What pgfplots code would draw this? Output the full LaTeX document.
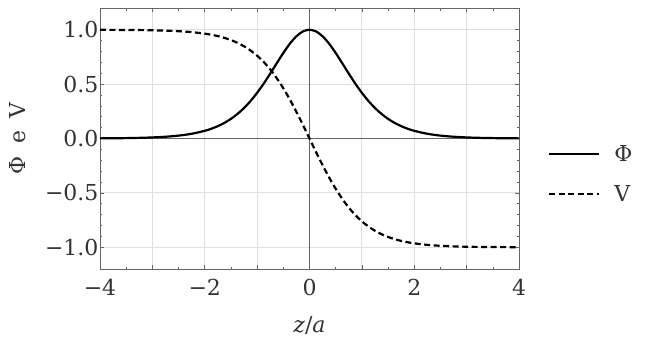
\documentclass[border=0pt]{standalone}
\usepackage{fontspec}
\setmainfont{DejaVu Serif}
\usepackage{pgfplots}
\pgfplotsset{compat=1.18}
\usepackage{pgfplotstable}
\pgfplotstableread{
z phi
-4.0 0.00134
-3.75 0.00221
-3.5 0.00364
-3.25 0.00599
-3.0 0.00987
-2.75 0.01621
-2.5 0.02660
-2.25 0.04346
-2.0 0.07065
-1.875 0.08969
-1.75 0.11380
-1.625 0.14360
-1.5 0.18070
-1.375 0.22599
-1.25 0.28042
-1.125 0.34503
-1.0 0.41998
-0.875 0.50452
-0.75 0.59658
-0.625 0.69243
-0.5 0.78645
-0.375 0.87159
-0.25 0.94001
-0.125 0.98454
0 1
0.125 0.98454
0.25 0.94001
0.375 0.87159
0.5 0.78645
0.625 0.69243
0.75 0.59658
0.875 0.50452
1.0 0.41998
1.125 0.34503
1.25 0.28042
1.375 0.22599
1.5 0.18070
1.625 0.14360
1.75 0.11380
1.875 0.08969
2.0 0.07065
2.25 0.04346
2.5 0.02660
2.75 0.01621
3.0 0.00987
3.25 0.00599
3.5 0.00364
3.75 0.00221
4.0 0.00134
}\phitable
\pgfplotstableread{
z v
-4.0 0.99933
-3.75 0.99889
-3.5 0.99818
-3.25 0.99700
-3.0 0.99505
-2.75 0.99186
-2.5 0.98661
-2.25 0.97803
-2.0 0.96403
-1.875 0.95410
-1.75 0.94138
-1.625 0.92542
-1.5 0.90515
-1.375 0.87978
-1.25 0.84828
-1.125 0.80930
-1.0 0.76159
-0.875 0.70390
-0.75 0.63515
-0.625 0.55459
-0.5 0.46212
-0.375 0.35835
-0.25 0.24492
-0.125 0.12435
0 0
0.125 -0.12435
0.25 -0.24492
0.375 -0.35835
0.5 -0.46212
0.625 -0.55459
0.75 -0.63515
0.875 -0.70390
1.0 -0.76159
1.125 -0.80930
1.25 -0.84828
1.375 -0.87978
1.5 -0.90515
1.625 -0.92542
1.75 -0.94138
1.875 -0.95410
2.0 -0.96403
2.25 -0.97803
2.5 -0.98661
2.75 -0.99186
3.0 -0.99505
3.25 -0.99700
3.5 -0.99818
3.75 -0.99889
4.0 -0.99933
}\vtable
\begin{document}
\begin{tikzpicture}[x=1pt,y=1pt]
\begin{axis}[
  name=ax,
  at={(0,0)}, anchor=south west,
  scale only axis,
  width=419pt, height=261pt,
  xmin=-4, xmax=4, ymin=-1.2, ymax=1.2,
  xtick={-4,-3,...,4},
  xticklabels={−4,,−2,,0,,2,,4},
  minor x tick num=1,
  ytick={-1,-0.5,0,0.5,1},
  yticklabels={−1.0,−0.5,0.0,0.5,1.0},
  minor y tick num=4,
  tick align=inside,
  major tick length=4pt,
  minor tick length=2.5pt,
  every tick/.style={gray!80!black, line width=0.6pt},
  axis line style={gray!80!black, line width=0.8pt},
  grid=major,
  major grid style={gray!25, line width=0.8pt},
  tick label style={font=\fontsize{22}{24}\selectfont, text=black!80},
  /pgf/number format/assume math mode=true,
  xlabel={\textit{z}/\textit{a}},
  ylabel={Φ\hspace{0.55em}e\hspace{0.55em}V},
  label style={font=\fontsize{22}{24}\selectfont, text=black!80},
  xlabel style={at={(axis description cs:0.5,0)}, anchor=center, yshift=-56pt},
  ylabel style={at={(axis description cs:-0.196,0.5)}, anchor=center},
  xticklabel style={yshift=-7pt},
  yticklabel style={xshift=2pt},
  legend style={at={(1.069,0.364)}, anchor=west, draw=none, fill=none, inner sep=0pt,
    font=\fontsize{22}{24}\selectfont, text=black!80, row sep=18pt,
    /tikz/every odd column/.append style={column sep=12pt}},
  legend cell align=left,
  legend image code/.code={\draw[#1] (0pt,0pt) -- (50pt,0pt);},
  clip=false,
]
\draw[gray!80!black, line width=0.7pt] (axis cs:0,-1.2) -- (axis cs:0,1.2);
\draw[gray!80!black, line width=0.7pt] (axis cs:-4,0) -- (axis cs:4,0);
\addplot[black, line width=2.2pt, smooth] table[x=z,y=phi] {\phitable};
\addlegendentry{Φ}
\addplot[black, line width=2.2pt, smooth, dash pattern=on 6pt off 3.5pt] table[x=z,y=v] {\vtable};
\addlegendentry{V}
\end{axis}
\useasboundingbox ([xshift=-100pt,yshift=-88pt]ax.south west) rectangle ([xshift=552pt,yshift=269pt]ax.south west);
\end{tikzpicture}
\end{document}
